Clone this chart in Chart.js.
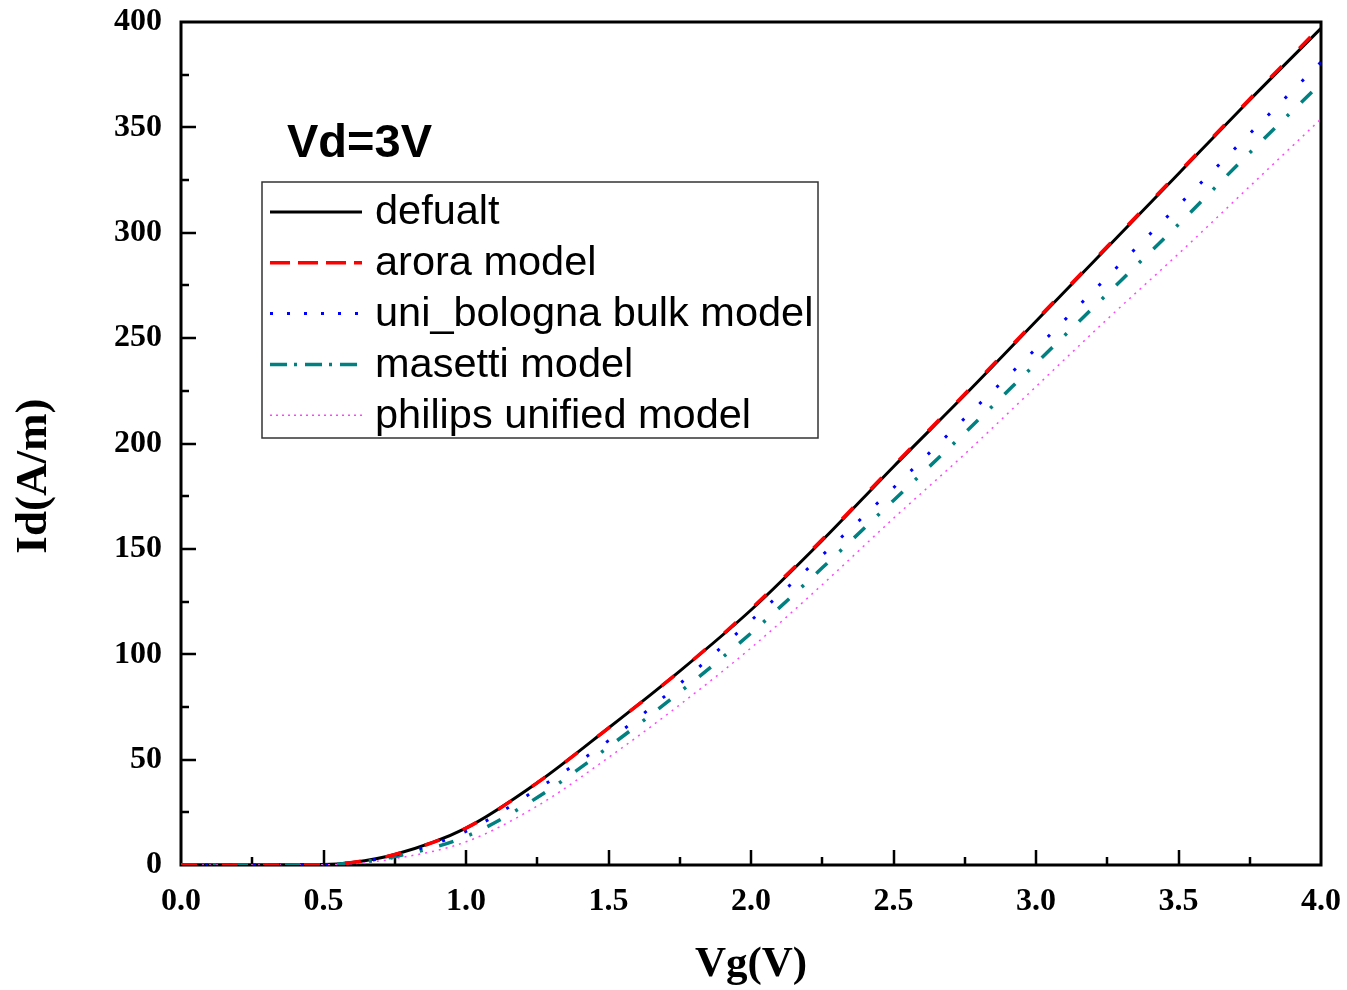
<!DOCTYPE html>
<html lang="en">
  <head>
    <meta charset="UTF-8" />
    <title>Id-Vg, Vd=3V</title>
    <script src="https://cdn.jsdelivr.net/npm/chart.js@4.4.1/dist/chart.umd.min.js"></script>
    <style>
      html, body { margin: 0; padding: 0; background: #fff; }
      #wrap { width: 1347px; height: 990px; }
    </style>
  </head>
  <body>
    <div id="wrap"><canvas id="myChart" width="1347" height="990"></canvas></div>

    <script>
      // gate voltage points (V)
      const vg = [0, 0.25, 0.5, 0.6, 0.75, 1.0, 1.25, 1.5, 1.75, 2.0, 2.25, 2.5, 2.75, 3.0, 3.25, 3.5, 3.75, 4.0];

      // drain current Id (A/m)
      const defualt   = [0, 0, 0.2, 1.2, 5, 17.5, 39, 65, 92, 121, 154, 189, 223, 258, 293, 328, 363, 397];
      const arora     = [0, 0, 0.2, 1.2, 5, 17.5, 39, 65, 92, 121.5, 154.5, 189.5, 223.5, 258.5, 293.5, 328.5, 363.5, 398];
      const uniBologna = [0, 0, 0.2, 1.0, 4.5, 16, 36, 59, 86, 116, 147, 179, 212, 245, 279, 313, 347, 381];
      const masetti   = [0, 0, 0.2, 0.9, 4, 13.5, 32, 56, 82, 110, 141, 173, 205, 238, 271, 304, 338, 371];
      const philips   = [0, 0, 0.1, 0.6, 3, 11, 28, 51, 76, 103, 133, 164.5, 195, 227, 259, 290, 322, 354];

      const seriesNames = ['defualt', 'arora model', 'uni_bologna bulk model', 'masetti model', 'philips unified model'];
      const yTicks = [0, 50, 100, 150, 200, 250, 300, 350, 400];
      const xTicks = [0, 0.5, 1.0, 1.5, 2.0, 2.5, 3.0, 3.5, 4.0];

      const serif = "'Liberation Serif', 'Times New Roman', serif";
      const sans = "'Liberation Sans', Arial, sans-serif";

      function pts(ys) {
        return vg.map((v, i) => ({ x: v, y: ys[i] }));
      }

      // frame + inward ticks, drawn under the curves
      const framePlugin = {
        id: 'frame',
        beforeDatasetsDraw(chart) {
          const { ctx, chartArea: a, scales: { x, y } } = chart;
          ctx.save();
          ctx.strokeStyle = '#000';
          ctx.lineWidth = 3;
          ctx.beginPath();
          ctx.rect(a.left, a.top, a.right - a.left, a.bottom - a.top);
          ctx.stroke();
          ctx.lineWidth = 2.5;
          ctx.beginPath();
          for (let v = 0.25; v < 4; v += 0.25) {
            const px = Math.round(x.getPixelForValue(v));
            const len = Math.abs(v * 2 - Math.round(v * 2)) < 1e-6 ? 15 : 8;
            ctx.moveTo(px, a.bottom);
            ctx.lineTo(px, a.bottom - len);
          }
          for (let v = 25; v < 400; v += 25) {
            const py = Math.round(y.getPixelForValue(v));
            const len = v % 50 === 0 ? 15 : 8;
            ctx.moveTo(a.left, py);
            ctx.lineTo(a.left + len, py);
          }
          ctx.stroke();
          ctx.restore();
        },
        afterDraw(chart) {
          const { ctx } = chart;
          ctx.save();
          // annotation
          ctx.fillStyle = '#000';
          ctx.font = 'bold 47px ' + sans;
          ctx.textBaseline = 'middle';
          ctx.fillText('Vd=3V', 287, 144);
          // legend box
          ctx.strokeStyle = '#333';
          ctx.lineWidth = 1.5;
          ctx.strokeRect(262, 182, 556, 256);
          ctx.font = '41.5px ' + sans;
          chart.data.datasets.forEach((ds, i) => {
            const yy = 212 + i * 50.8;
            ctx.strokeStyle = ds.borderColor;
            ctx.lineWidth = ds.borderWidth;
            ctx.setLineDash(ds.legendDash || []);
            ctx.beginPath();
            ctx.moveTo(270, yy);
            ctx.lineTo(362, yy);
            ctx.stroke();
            ctx.setLineDash([]);
            ctx.fillStyle = '#000';
            ctx.fillText(ds.label, 375, yy + 1);
          });
          ctx.restore();
        }
      };

      const ctx = document.getElementById('myChart').getContext('2d');
      const myChart = new Chart(ctx, {
        type: 'line',
        data: {
          datasets: [
            { label: seriesNames[0], data: pts(defualt), borderColor: '#000000', borderWidth: 3, borderDash: [], legendDash: [], order: 5 },
            { label: seriesNames[1], data: pts(arora), borderColor: '#ff0000', borderWidth: 3.5, borderDash: [16, 25], legendDash: [20, 8], order: 1 },
            { label: seriesNames[2], data: pts(uniBologna), borderColor: '#0000ff', borderWidth: 3, borderDash: [3, 21], legendDash: [3, 14], order: 2 },
            { label: seriesNames[3], data: pts(masetti), borderColor: '#008080', borderWidth: 3.5, borderDash: [15, 17, 3, 17], legendDash: [17, 7, 3, 8], order: 3 },
            { label: seriesNames[4], data: pts(philips), borderColor: '#ff44ff', borderWidth: 1.5, borderDash: [2, 5], legendDash: [2, 4], order: 4 }
          ]
        },
        options: {
          responsive: false,
          animation: false,
          layout: { padding: { left: 0, right: 26, top: 22, bottom: 0 } },
          elements: {
            point: { radius: 0 },
            line: { cubicInterpolationMode: 'monotone', fill: false }
          },
          plugins: {
            legend: { display: false },
            tooltip: { enabled: false }
          },
          scales: {
            x: {
              type: 'linear',
              min: 0,
              max: 4,
              afterFit(scale) {
                scale.height = 125;
                scale.paddingLeft = 0;
                scale.paddingRight = 0;
              },
              afterBuildTicks(scale) { scale.ticks = xTicks.map(v => ({ value: v })); },
              grid: { display: false },
              border: { display: false },
              ticks: {
                color: '#000',
                padding: 10,
                maxRotation: 0,
                font: { family: serif, size: 32, weight: 'bold' },
                callback: v => v.toFixed(1)
              },
              title: {
                display: true,
                text: 'Vg(V)',
                color: '#000',
                font: { family: serif, size: 43, weight: 'bold', lineHeight: 1 },
                padding: { top: 0, bottom: 4 }
              }
            },
            y: {
              min: 0,
              max: 400,
              afterFit(scale) {
                scale.width = 181;
                scale.paddingTop = 0;
                scale.paddingBottom = 0;
              },
              afterBuildTicks(scale) { scale.ticks = yTicks.map(v => ({ value: v })); },
              grid: { display: false },
              border: { display: false },
              ticks: {
                color: '#000',
                padding: 11,
                font: { family: serif, size: 32, weight: 'bold' }
              },
              title: {
                display: true,
                // trailing spaces push the rotated title down a bit, as in the figure
                text: 'Id(A/m)     \u2009',
                color: '#000',
                font: { family: serif, size: 45, weight: 'bold', lineHeight: 1 },
                padding: { top: 12, bottom: 0 }
              }
            }
          }
        },
        plugins: [framePlugin]
      });
    </script>
  </body>
</html>
